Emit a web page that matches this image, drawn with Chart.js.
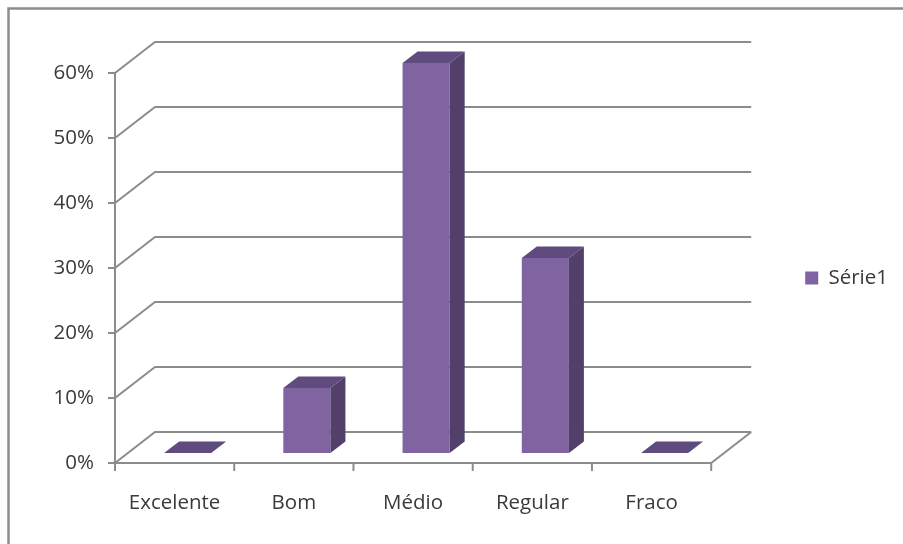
<!DOCTYPE html>
<html>
<head>
<meta charset="utf-8">
<script src="https://cdn.jsdelivr.net/npm/chart.js@4.4.1/dist/chart.umd.min.js"></script>
<style>
  html, body { margin: 0; padding: 0; background: #ffffff; }
  #wrap { width: 903px; height: 544px; position: relative; }
</style>
</head>
<body>
<div id="wrap"><canvas id="c" width="903" height="544"></canvas></div>
<script>
// ---- data ----
const categories = ['Excelente', 'Bom', 'Médio', 'Regular', 'Fraco'];
const seriesName = 'Série1';
const values = [0, 0.10, 0.60, 0.30, 0];
const yTickLabels = ['0%', '10%', '20%', '30%', '40%', '50%', '60%'];

// ---- style ----
const FRONT = '#8064A2';
const SIDE = '#523f6a';
const TOP = '#604b7f';
const GRID = '#8c8c8c';
const TEXT = '#3a3a3a';
const FONT = 'Open Sans';
const FSIZE = 20.5;
const WALL = { dx: 40, dy: -31 };     // depth of the 3D box
const BAR_OFF = { dx: 13, dy: -10 };  // bar front plane shift
const BAR_DEPTH = { dx: 15, dy: -11.6 };

const threeD = {
  id: 'threeD',
  beforeDraw(chart) {
    const ctx = chart.ctx;
    ctx.save();
    ctx.fillStyle = '#ffffff';
    ctx.fillRect(0, 0, chart.width, chart.height);
    // outer frame
    ctx.strokeStyle = '#8c8c8c';
    ctx.lineWidth = 2.5;
    ctx.beginPath();
    ctx.moveTo(8.5, chart.height + 5);
    ctx.lineTo(8.5, 8.5);
    ctx.lineTo(chart.width + 5, 8.5);
    ctx.stroke();
    ctx.restore();
  },
  beforeDatasetsDraw(chart) {
    const ctx = chart.ctx;
    const x = chart.scales.x, y = chart.scales.y;
    const L = x.left, R = x.right;
    const B = y.getPixelForValue(0);
    ctx.save();
    ctx.strokeStyle = GRID;
    ctx.lineWidth = 2;
    ctx.lineCap = 'butt';
    ctx.beginPath();
    y.ticks.forEach(t => {
      const py = y.getPixelForValue(t.value);
      ctx.moveTo(L, py);
      ctx.lineTo(L + WALL.dx, py + WALL.dy);
      ctx.lineTo(R + WALL.dx, py + WALL.dy);
      // tick mark
      ctx.moveTo(L - 7, py);
      ctx.lineTo(L, py);
    });
    // floor front & right edge
    ctx.moveTo(L, B);
    ctx.lineTo(R, B);
    ctx.lineTo(R + WALL.dx, B + WALL.dy);
    // y axis line
    ctx.moveTo(L, y.getPixelForValue(y.max));
    ctx.lineTo(L, B);
    // x tick marks at category boundaries
    for (let i = 0; i <= categories.length; i++) {
      const px = x.getPixelForValue(i - 0.5);
      ctx.moveTo(px, B);
      ctx.lineTo(px, B + 8);
    }
    ctx.stroke();
    ctx.restore();
    ctx.save();
    ctx.translate(BAR_OFF.dx, BAR_OFF.dy);
  },
  afterDatasetsDraw(chart) {
    const ctx = chart.ctx;
    ctx.restore();
    const meta = chart.getDatasetMeta(0);
    ctx.save();
    meta.data.forEach(bar => {
      const p = bar.getProps(['x', 'y', 'base', 'width'], true);
      const l = p.x - p.width / 2 + BAR_OFF.dx;
      const r = p.x + p.width / 2 + BAR_OFF.dx;
      const t = p.y + BAR_OFF.dy;
      const b = p.base + BAR_OFF.dy;
      // side face
      if (b - t > 0.5) {
        ctx.fillStyle = SIDE;
        ctx.beginPath();
        ctx.moveTo(r, t);
        ctx.lineTo(r + BAR_DEPTH.dx, t + BAR_DEPTH.dy);
        ctx.lineTo(r + BAR_DEPTH.dx, b + BAR_DEPTH.dy);
        ctx.lineTo(r, b);
        ctx.closePath();
        ctx.fill();
      }
      // top face
      ctx.fillStyle = TOP;
      ctx.beginPath();
      ctx.moveTo(l, t);
      ctx.lineTo(l + BAR_DEPTH.dx, t + BAR_DEPTH.dy);
      ctx.lineTo(r + BAR_DEPTH.dx, t + BAR_DEPTH.dy);
      ctx.lineTo(r, t);
      ctx.closePath();
      ctx.fill();
    });
    ctx.restore();
  }
};

new Chart(document.getElementById('c'), {
  type: 'bar',
  data: {
    labels: categories,
    datasets: [{
      label: seriesName,
      data: values,
      backgroundColor: FRONT,
      borderWidth: 0,
      categoryPercentage: 1.0,
      barPercentage: 0.395,
      clip: false
    }]
  },
  options: {
    responsive: false,
    animation: false,
    devicePixelRatio: 1,
    layout: { padding: { top: 32, bottom: 20, left: 0, right: 5 } },
    plugins: {
      legend: {
        position: 'right',
        labels: {
          boxWidth: 13,
          boxHeight: 13,
          padding: 94,
          color: TEXT,
          font: { family: FONT, size: FSIZE }
        }
      },
      tooltip: { enabled: false }
    },
    scales: {
      x: {
        type: 'category',
        position: 'bottom',
        grid: { display: false, drawTicks: false },
        border: { display: false },
        ticks: {
          color: TEXT,
          padding: 28,
          maxRotation: 0,
          autoSkip: false,
          font: { family: FONT, size: FSIZE }
        },
        afterFit(s) { s.height = 61; }
      },
      topSpacer: {
        type: 'category',
        position: 'top',
        display: true,
        grid: { display: false, drawTicks: false },
        border: { display: false },
        ticks: { display: false },
        afterFit(s) { s.height = 41; }
      },
      y: {
        min: 0,
        max: 0.6,
        grid: { display: false, drawTicks: false },
        border: { display: false },
        ticks: {
          stepSize: 0.1,
          color: TEXT,
          padding: 21,
          font: { family: FONT, size: FSIZE },
          callback: (v, i) => yTickLabels[i]
        },
        afterFit(s) { s.width = 115; }
      }
    }
  },
  plugins: [threeD]
});
</script>
</body>
</html>
